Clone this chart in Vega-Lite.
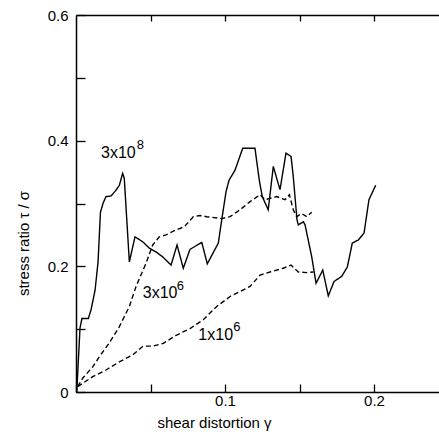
{
  "$schema": "https://vega.github.io/schema/vega-lite/v6.json",
  "width": 363,
  "height": 377,
  "autosize": "none",
  "padding": {"left": 76, "top": 15, "right": 0, "bottom": 44},
  "background": "white",
  "config": {
    "view": {"stroke": null},
    "font": "Liberation Sans",
    "axis": {
      "domainColor": "black", "domainWidth": 1.5, "tickColor": "black", "tickWidth": 1.3,
      "labelColor": "black", "titleColor": "black", "labelFont": "Liberation Sans", "titleFont": "Liberation Sans",
      "labelFontSize": 15, "titleFontSize": 15, "titleFontWeight": "normal", "grid": false
    }
  },
  "resolve": {"axis": {"x": "independent"}},
  "datasets": {
    "curves": [
      {"series": "3x10^8", "x": 0, "y": 0},
      {"series": "3x10^8", "x": 0.0005, "y": 0.0},
      {"series": "3x10^8", "x": 0.0027, "y": 0.102},
      {"series": "3x10^8", "x": 0.004, "y": 0.117},
      {"series": "3x10^8", "x": 0.0083, "y": 0.117},
      {"series": "3x10^8", "x": 0.0101, "y": 0.131},
      {"series": "3x10^8", "x": 0.0128, "y": 0.162},
      {"series": "3x10^8", "x": 0.0148, "y": 0.207},
      {"series": "3x10^8", "x": 0.0164, "y": 0.286},
      {"series": "3x10^8", "x": 0.0181, "y": 0.300},
      {"series": "3x10^8", "x": 0.0201, "y": 0.311},
      {"series": "3x10^8", "x": 0.0235, "y": 0.312},
      {"series": "3x10^8", "x": 0.0268, "y": 0.321},
      {"series": "3x10^8", "x": 0.0291, "y": 0.329},
      {"series": "3x10^8", "x": 0.0313, "y": 0.348},
      {"series": "3x10^8", "x": 0.0324, "y": 0.340},
      {"series": "3x10^8", "x": 0.0358, "y": 0.207},
      {"series": "3x10^8", "x": 0.0396, "y": 0.247},
      {"series": "3x10^8", "x": 0.0448, "y": 0.239},
      {"series": "3x10^8", "x": 0.0492, "y": 0.229},
      {"series": "3x10^8", "x": 0.0537, "y": 0.223},
      {"series": "3x10^8", "x": 0.0582, "y": 0.215},
      {"series": "3x10^8", "x": 0.0638, "y": 0.202},
      {"series": "3x10^8", "x": 0.0678, "y": 0.234},
      {"series": "3x10^8", "x": 0.072, "y": 0.197},
      {"series": "3x10^8", "x": 0.0765, "y": 0.227},
      {"series": "3x10^8", "x": 0.0844, "y": 0.238},
      {"series": "3x10^8", "x": 0.0881, "y": 0.204},
      {"series": "3x10^8", "x": 0.0955, "y": 0.237},
      {"series": "3x10^8", "x": 0.0978, "y": 0.274},
      {"series": "3x10^8", "x": 0.1007, "y": 0.319},
      {"series": "3x10^8", "x": 0.1027, "y": 0.337},
      {"series": "3x10^8", "x": 0.1067, "y": 0.353},
      {"series": "3x10^8", "x": 0.1119, "y": 0.388},
      {"series": "3x10^8", "x": 0.1201, "y": 0.388},
      {"series": "3x10^8", "x": 0.1230, "y": 0.337},
      {"series": "3x10^8", "x": 0.125, "y": 0.311},
      {"series": "3x10^8", "x": 0.129, "y": 0.290},
      {"series": "3x10^8", "x": 0.1324, "y": 0.359},
      {"series": "3x10^8", "x": 0.1369, "y": 0.322},
      {"series": "3x10^8", "x": 0.1409, "y": 0.380},
      {"series": "3x10^8", "x": 0.1443, "y": 0.375},
      {"series": "3x10^8", "x": 0.1458, "y": 0.343},
      {"series": "3x10^8", "x": 0.1483, "y": 0.274},
      {"series": "3x10^8", "x": 0.1492, "y": 0.266},
      {"series": "3x10^8", "x": 0.1526, "y": 0.271},
      {"series": "3x10^8", "x": 0.1537, "y": 0.266},
      {"series": "3x10^8", "x": 0.1582, "y": 0.215},
      {"series": "3x10^8", "x": 0.1611, "y": 0.173},
      {"series": "3x10^8", "x": 0.1656, "y": 0.194},
      {"series": "3x10^8", "x": 0.1693, "y": 0.153},
      {"series": "3x10^8", "x": 0.1732, "y": 0.176},
      {"series": "3x10^8", "x": 0.1783, "y": 0.184},
      {"series": "3x10^8", "x": 0.1821, "y": 0.199},
      {"series": "3x10^8", "x": 0.1854, "y": 0.237},
      {"series": "3x10^8", "x": 0.1895, "y": 0.242},
      {"series": "3x10^8", "x": 0.1933, "y": 0.253},
      {"series": "3x10^8", "x": 0.1966, "y": 0.306},
      {"series": "3x10^8", "x": 0.2011, "y": 0.329},

      {"series": "3x10^6", "x": 0.0011, "y": 0.0084},
      {"series": "3x10^6", "x": 0.0045, "y": 0.022},
      {"series": "3x10^6", "x": 0.0112, "y": 0.040},
      {"series": "3x10^6", "x": 0.0156, "y": 0.056},
      {"series": "3x10^6", "x": 0.0223, "y": 0.078},
      {"series": "3x10^6", "x": 0.0291, "y": 0.104},
      {"series": "3x10^6", "x": 0.0358, "y": 0.136},
      {"series": "3x10^6", "x": 0.0403, "y": 0.168},
      {"series": "3x10^6", "x": 0.047, "y": 0.205},
      {"series": "3x10^6", "x": 0.0515, "y": 0.234},
      {"series": "3x10^6", "x": 0.0559, "y": 0.247},
      {"series": "3x10^6", "x": 0.0604, "y": 0.250},
      {"series": "3x10^6", "x": 0.0671, "y": 0.258},
      {"series": "3x10^6", "x": 0.0727, "y": 0.263},
      {"series": "3x10^6", "x": 0.0787, "y": 0.279},
      {"series": "3x10^6", "x": 0.0832, "y": 0.281},
      {"series": "3x10^6", "x": 0.0877, "y": 0.279},
      {"series": "3x10^6", "x": 0.0978, "y": 0.276},
      {"series": "3x10^6", "x": 0.1034, "y": 0.279},
      {"series": "3x10^6", "x": 0.1101, "y": 0.290},
      {"series": "3x10^6", "x": 0.1168, "y": 0.303},
      {"series": "3x10^6", "x": 0.1235, "y": 0.314},
      {"series": "3x10^6", "x": 0.1268, "y": 0.306},
      {"series": "3x10^6", "x": 0.1347, "y": 0.311},
      {"series": "3x10^6", "x": 0.1403, "y": 0.306},
      {"series": "3x10^6", "x": 0.1432, "y": 0.314},
      {"series": "3x10^6", "x": 0.1458, "y": 0.290},
      {"series": "3x10^6", "x": 0.1481, "y": 0.279},
      {"series": "3x10^6", "x": 0.1515, "y": 0.284},
      {"series": "3x10^6", "x": 0.1548, "y": 0.279},
      {"series": "3x10^6", "x": 0.1582, "y": 0.286},

      {"series": "1x10^6", "x": 0.0011, "y": 0.0084},
      {"series": "1x10^6", "x": 0.0045, "y": 0.0138},
      {"series": "1x10^6", "x": 0.0112, "y": 0.0244},
      {"series": "1x10^6", "x": 0.0201, "y": 0.035},
      {"series": "1x10^6", "x": 0.0291, "y": 0.048},
      {"series": "1x10^6", "x": 0.038, "y": 0.059},
      {"series": "1x10^6", "x": 0.045, "y": 0.073},
      {"series": "1x10^6", "x": 0.0515, "y": 0.073},
      {"series": "1x10^6", "x": 0.0586, "y": 0.0775},
      {"series": "1x10^6", "x": 0.0676, "y": 0.0907},
      {"series": "1x10^6", "x": 0.0765, "y": 0.101},
      {"series": "1x10^6", "x": 0.0854, "y": 0.115},
      {"series": "1x10^6", "x": 0.0944, "y": 0.136},
      {"series": "1x10^6", "x": 0.1034, "y": 0.152},
      {"series": "1x10^6", "x": 0.1101, "y": 0.160},
      {"series": "1x10^6", "x": 0.1168, "y": 0.168},
      {"series": "1x10^6", "x": 0.1235, "y": 0.186},
      {"series": "1x10^6", "x": 0.1302, "y": 0.191},
      {"series": "1x10^6", "x": 0.1391, "y": 0.197},
      {"series": "1x10^6", "x": 0.1443, "y": 0.202},
      {"series": "1x10^6", "x": 0.1492, "y": 0.191},
      {"series": "1x10^6", "x": 0.1548, "y": 0.190},
      {"series": "1x10^6", "x": 0.1593, "y": 0.191}
    ],
    "labels": [
      {"x": 0.0168, "y": 0.372, "text": "3x10"},
      {"x": 0.0448, "y": 0.149, "text": "3x10"},
      {"x": 0.0821, "y": 0.0828, "text": "1x10"}
    ],
    "sups": [
      {"x": 0.0407, "y": 0.386, "text": "8"},
      {"x": 0.0676, "y": 0.163, "text": "6"},
      {"x": 0.1055, "y": 0.097, "text": "6"}
    ]
  },
  "encoding": {
    "y": {
      "field": "y", "type": "quantitative",
      "scale": {"domain": [0, 0.6], "nice": false},
      "axis": {
        "orient": "left", "values": [0, 0.1, 0.2, 0.3, 0.4, 0.5, 0.6], "tickSize": 9, "labelPadding": -1,
        "encoding": {"ticks": {"x2": {"value": 9}}},
        "labelExpr": "datum.value == 0 ? '0' : datum.value == 0.2 ? '0.2' : datum.value == 0.4 ? '0.4' : datum.value == 0.6 ? '0.6' : ''",
        "title": "stress ratio  τ / σ", "titleX": -48, "titleY": 228, "titleAngle": -90, "titleBaseline": "alphabetic", "titleAlign": "center"
      }
    }
  },
  "layer": [
    {
      "data": {"name": "curves"},
      "mark": {"type": "line", "color": "black", "strokeWidth": 1.4},
      "encoding": {
        "x": {
          "field": "x", "type": "quantitative",
          "scale": {"domain": [0, 0.2436], "nice": false, "zero": false},
          "axis": {
            "orient": "bottom", "values": [0, 0.05, 0.1, 0.15, 0.2], "tickSize": 8, "labelPadding": -7,
            "encoding": {"ticks": {"y2": {"value": -8}}},
            "labelBaseline": "top",
            "labelExpr": "datum.value == 0.1 ? '0.1' : datum.value == 0.2 ? '0.2' : ''",
            "title": "shear distortion  γ", "titleX": 138, "titleY": 35, "titleBaseline": "alphabetic", "titleAlign": "center"
          }
        },
        "strokeDash": {
          "field": "series", "type": "nominal",
          "scale": {"domain": ["3x10^8", "3x10^6", "1x10^6"], "range": [[1, 0], [5, 3], [5, 3]]},
          "legend": null
        }
      }
    },
    {
      "data": {"name": "labels"},
      "mark": {"type": "text", "align": "left", "baseline": "alphabetic", "fontSize": 16, "font": "Liberation Sans", "color": "black"},
      "encoding": {
        "x": {
          "field": "x", "type": "quantitative",
          "axis": {"orient": "top", "values": [0.05, 0.1, 0.15, 0.2], "tickSize": 6, "labels": false, "title": null,
            "encoding": {"ticks": {"y2": {"value": 6}}}}
        },
        "text": {"field": "text"}
      }
    },
    {
      "data": {"name": "sups"},
      "mark": {"type": "text", "align": "left", "baseline": "alphabetic", "fontSize": 13, "font": "Liberation Sans", "color": "black"},
      "encoding": {
        "x": {"field": "x", "type": "quantitative", "axis": null},
        "text": {"field": "text"}
      }
    }
  ]
}
